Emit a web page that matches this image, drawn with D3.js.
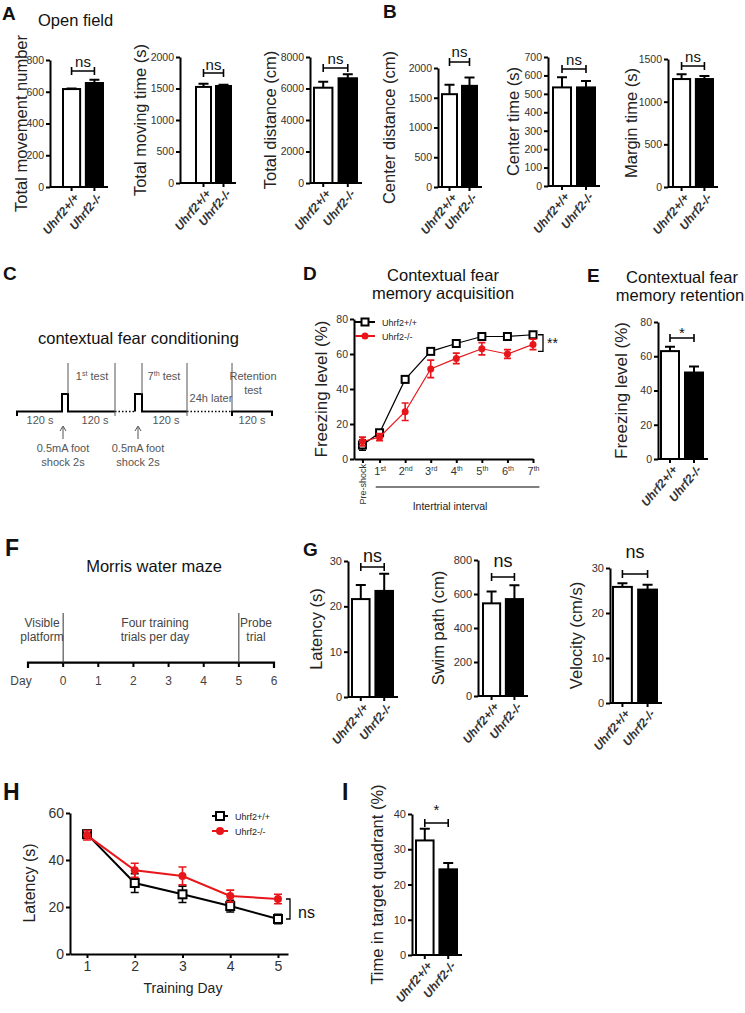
<!DOCTYPE html>
<html>
<head>
<meta charset="utf-8">
<script src="https://cdn.jsdelivr.net/npm/d3@7"></script>
<style>
  body { margin: 0; background: #fff; }
  svg { font-family: "Liberation Sans", Arial, sans-serif; }
  .axis .domain, .axis line { stroke: #000; stroke-width: 2; }
  .axis text { fill: #333; }
</style>
</head>
<body>
<div class="chart"></div>
<script>
// === Data ===
const genotypes = ["Uhrf2+/+", "Uhrf2-/-"];

// A - open field
const movementNumber = [617, 655], movementNumberErr = [4, 20];
const movingTime = [1525, 1540], movingTimeErr = [50, 20];
const totalDistance = [6050, 6650], totalDistanceErr = [380, 250];

// B
const centerDistance = [1560, 1700], centerDistanceErr = [160, 140];
const centerTime = [535, 535], centerTimeErr = [55, 35];
const marginTime = [1265, 1265], marginTimeErr = [55, 35];

// D - acquisition
const trialPos = [0.33, 1, 2, 3, 4, 5, 6, 7];
const trialLabels = ["Pre-shock", "1", "2", "3", "4", "5", "6", "7"];
const trialSup = ["", "st", "nd", "rd", "th", "th", "th", "th"];
const freezeWT = [8, 15, 45.5, 61.5, 66, 70, 70, 71];
const freezeWTErr = [3, 1.5, 1.8, 1.2, 1.5, 1, 1, 1];
const freezeKO = [10, 12.5, 27, 51.5, 57.5, 63, 60, 65.5];
const freezeKOErr = [2.5, 2, 5, 5, 3, 3.5, 2.5, 3];

// E - retention
const retention = [63, 50.5], retentionErr = [2.5, 3.5];

// G - probe / visible platform
const probeLatency = [21.6, 23.4], probeLatencyErr = [3.1, 3.8];
const swimPath = [545, 570], swimPathErr = [70, 82];
const velocity = [25.8, 25.2], velocityErr = [0.8, 1.1];

// H - training latency
const trainingDays = [1, 2, 3, 4, 5];
const latencyWT = [51, 30.2, 25.4, 20.4, 14.9];
const latencyWTErr = [1.5, 4, 3.5, 2.5, 2];
const latencyKO = [50.5, 35.6, 33.2, 24.7, 23.4];
const latencyKOErr = [2, 3, 3.8, 2.5, 2];

// I - target quadrant
const targetTime = [32.5, 24.3], targetTimeErr = [3.3, 1.8];

// F - timeline
const mazeDays = [0, 1, 2, 3, 4, 5, 6];

// === SVG ===
const svg = d3.select(".chart").append("svg")
    .attr("width", 745)
    .attr("height", 1013);

function label(x, y, str, size, opts = {}) {
  return svg.append("text")
    .attr("x", x).attr("y", y)
    .attr("font-size", size)
    .attr("font-weight", opts.bold ? "bold" : null)
    .attr("text-anchor", opts.anchor || "start")
    .attr("fill", opts.fill || "#111")
    .text(str);
}

function yLabel(x, y, str, size) {
  svg.append("text")
    .attr("transform", `translate(${x},${y}) rotate(-90)`)
    .attr("text-anchor", "middle")
    .attr("font-size", size)
    .attr("fill", "#222")
    .text(str);
}

// === Bar chart ===
function barChart(o) {
  const y = d3.scaleLinear().domain([0, o.max]).range([o.y0, o.yTop]);
  const x = d3.scaleBand().domain(genotypes).range([o.x1, o.x2]).paddingInner(0.25).paddingOuter(0);
  const cx = k => x(k) + x.bandwidth() / 2;
  const rows = genotypes.map((k, i) => ({k, v: o.values[i], e: o.errors[i], i}));
  const cap = o.cap || 5;
  const g = svg.append("g");

  g.selectAll(".bar").data(rows).join("rect")
    .attr("class", "bar")
    .attr("x", d => x(d.k))
    .attr("y", d => y(d.v))
    .attr("width", x.bandwidth())
    .attr("height", d => o.y0 - y(d.v))
    .attr("fill", d => d.i ? "#000" : "#fff")
    .attr("stroke", "#000")
    .attr("stroke-width", 2);

  g.selectAll(".err").data(rows).join("path")
    .attr("class", "err")
    .attr("d", d => `M${cx(d.k)},${y(d.v)}V${y(d.v + d.e)}M${cx(d.k) - cap},${y(d.v + d.e)}H${cx(d.k) + cap}`)
    .attr("stroke", "#000")
    .attr("stroke-width", 2)
    .attr("fill", "none");

  // y axis
  g.append("g")
    .attr("class", "axis")
    .attr("transform", `translate(${o.axisX},0)`)
    .call(d3.axisLeft(y).tickValues(d3.range(0, o.max + 1e-9, o.step)).tickFormat(d3.format("d"))
      .tickSize(4).tickSizeOuter(0).tickPadding(2))
    .call(a => a.selectAll("text").attr("font-size", o.tickSize || 10.5));

  // x axis
  const xa = g.append("g")
    .attr("class", "axis")
    .attr("transform", `translate(0,${o.y0})`)
    .call(d3.axisBottom(x).tickSize(4).tickSizeOuter(0));
  xa.select(".domain").attr("d", `M${o.axisX},0H${o.x2 + 5}`);
  xa.selectAll("text")
    .attr("text-anchor", "end")
    .attr("font-size", 12)
    .attr("font-weight", "bold")
    .attr("font-style", "italic")
    .attr("fill", "#111")
    .attr("y", 0).attr("dy", 0)
    .attr("transform", "translate(8,11) rotate(-50)");

  yLabel(o.labelX, (o.y0 + o.yTop) / 2, o.label, o.labelSize || 16.5);

  // significance bracket
  const bx0 = cx(genotypes[0]), bx1 = cx(genotypes[1]);
  g.append("path")
    .attr("d", `M${bx0},${o.sigY - 4}V${o.sigY + 4}M${bx0},${o.sigY}H${bx1}M${bx1},${o.sigY - 4}V${o.sigY + 4}`)
    .attr("stroke", "#000").attr("stroke-width", 1.6).attr("fill", "none");
  g.append("text")
    .attr("x", (bx0 + bx1) / 2).attr("y", o.sigTextY)
    .attr("text-anchor", "middle")
    .attr("font-size", o.sigSize || 15)
    .attr("fill", "#111")
    .text(o.sig);
}

// === Line chart ===
function lineChart(o) {
  const x = d3.scaleLinear().domain(o.xDomain).range([o.axisX, o.xEnd]);
  const y = d3.scaleLinear().domain([0, o.max]).range([o.y0, o.yTop]);
  const g = svg.append("g");

  g.append("g")
    .attr("class", "axis")
    .attr("transform", `translate(${o.axisX},0)`)
    .call(d3.axisLeft(y).tickValues(d3.range(0, o.max + 1e-9, o.step)).tickSize(4).tickSizeOuter(0).tickPadding(2))
    .call(a => a.selectAll("text").attr("font-size", o.tickSize));

  const xa = g.append("g")
    .attr("class", "axis")
    .attr("transform", `translate(0,${o.y0})`)
    .call(d3.axisBottom(x).tickValues(o.xs).tickSize(4).tickSizeOuter(0).tickFormat(o.fmt || d3.format("d")))
    .call(a => a.selectAll("text").attr("font-size", o.tickSize));

  o.series.forEach(s => {
    const pts = o.xs.map((xv, i) => ({x: xv, v: s.values[i], e: s.errs[i]}));
    g.append("path").datum(pts)
      .attr("d", d3.line().x(d => x(d.x)).y(d => y(d.v)))
      .attr("fill", "none").attr("stroke", s.color).attr("stroke-width", o.lw);
    g.selectAll(null).data(pts).join("path")
      .attr("d", d => {
        const px = x(d.x), t = y(d.v + d.e), b = y(d.v - d.e);
        return `M${px},${t}V${b}M${px - o.cap},${t}H${px + o.cap}M${px - o.cap},${b}H${px + o.cap}`;
      })
      .attr("stroke", s.color).attr("stroke-width", 1.6).attr("fill", "none");
    if (s.marker === "square") {
      g.selectAll(null).data(pts).join("rect")
        .attr("x", d => x(d.x) - o.ms / 2).attr("y", d => y(d.v) - o.ms / 2)
        .attr("width", o.ms).attr("height", o.ms)
        .attr("fill", "#fff").attr("stroke", s.color).attr("stroke-width", 2);
    } else {
      g.selectAll(null).data(pts).join("circle")
        .attr("cx", d => x(d.x)).attr("cy", d => y(d.v)).attr("r", o.ms / 2)
        .attr("fill", s.color);
    }
  });

  // legend
  o.series.forEach((s, i) => {
    const ly = o.legY + i * o.legGap;
    g.append("line").attr("x1", o.legX).attr("x2", o.legX + o.legW).attr("y1", ly).attr("y2", ly)
      .attr("stroke", s.color).attr("stroke-width", 2);
    const mx = o.legX + o.legW / 2;
    if (s.marker === "square") {
      g.append("rect").attr("x", mx - o.ms / 2).attr("y", ly - o.ms / 2).attr("width", o.ms).attr("height", o.ms)
        .attr("fill", "#fff").attr("stroke", s.color).attr("stroke-width", 2);
    } else {
      g.append("circle").attr("cx", mx).attr("cy", ly).attr("r", o.ms / 2).attr("fill", s.color);
    }
    g.append("text").attr("x", o.legX + o.legW + 7).attr("y", ly + 3.5)
      .attr("font-size", 9).attr("fill", "#222").text(s.name);
  });
  return {x, y, xa};
}

// === Panel A ===
label(2, 20, "A", 19, {bold: true});
label(38, 26, "Open field", 16.5);
barChart({axisX: 50, y0: 187, yTop: 60, max: 800, step: 200, x1: 63, x2: 103,
  values: movementNumber, errors: movementNumberErr, label: "Total movement number", labelX: 27,
  sigY: 71, sigTextY: 67, sig: "ns"});
barChart({axisX: 180, y0: 183, yTop: 57, max: 2000, step: 500, x1: 196, x2: 231,
  values: movingTime, errors: movingTimeErr, label: "Total moving time (s)", labelX: 146,
  sigY: 73, sigTextY: 70, sig: "ns"});
barChart({axisX: 310, y0: 183, yTop: 57, max: 8000, step: 2000, x1: 314, x2: 357,
  values: totalDistance, errors: totalDistanceErr, label: "Total distance (cm)", labelX: 276,
  sigY: 68, sigTextY: 64, sig: "ns"});

// === Panel B ===
label(383, 18, "B", 19, {bold: true});
barChart({axisX: 438, y0: 187, yTop: 68, max: 2000, step: 500, x1: 442, x2: 477,
  values: centerDistance, errors: centerDistanceErr, label: "Center distance (cm)", labelX: 395,
  sigY: 62, sigTextY: 57, sig: "ns"});
barChart({axisX: 548, y0: 186, yTop: 57, max: 700, step: 100, x1: 553, x2: 595,
  values: centerTime, errors: centerTimeErr, label: "Center time (s)", labelX: 519,
  sigY: 69, sigTextY: 65, sig: "ns"});
barChart({axisX: 668, y0: 187, yTop: 59, max: 1500, step: 500, x1: 673, x2: 713,
  values: marginTime, errors: marginTimeErr, label: "Margin time (s)", labelX: 637,
  sigY: 66, sigTextY: 62, sig: "ns"});

// === Panel C: contextual fear conditioning protocol ===
label(3, 280, "C", 19, {bold: true});
label(38, 344, "contextual fear conditioning", 16.5);
const cg = svg.append("g").attr("fill", "none").attr("stroke", "#000");
cg.append("path").attr("stroke-width", 2).attr("d", "M17,416V411.5H62V394H68V411.5H115");
cg.append("path").attr("stroke-width", 2).attr("d", "M135,411.5V394H142V411.5H187");
cg.append("path").attr("stroke-width", 2).attr("d", "M232,416V411.5H272V416");
cg.append("path").attr("stroke-width", 1.5).attr("stroke-dasharray", "1.5,2").attr("d", "M115,411.5H135M187,411.5H232");
cg.append("path").attr("stroke-width", 1).attr("stroke", "#555")
  .attr("d", "M68,363V394M115,363V416M142,363V394M187,363V416M232,363V411");
cg.append("path").attr("stroke-width", 1).attr("stroke", "#555")
  .attr("d", "M63,439V427M60,431L63,426L66,431M138,439V427M135,431L138,426L141,431");
const cText = (x, y, s) => label(x, y, s, 11, {anchor: "middle", fill: "#555"});
const supText = (x, y, base, sup, rest, size) => {
  const t = svg.append("text").attr("x", x).attr("y", y).attr("text-anchor", "middle")
    .attr("font-size", size).attr("fill", "#555");
  t.append("tspan").text(base);
  t.append("tspan").attr("font-size", size * 0.65).attr("dy", -size * 0.35).text(sup);
  t.append("tspan").attr("dy", size * 0.35).text(rest);
};
supText(92, 380, "1", "st", " test", 11);
supText(164, 380, "7", "th", " test", 11);
cText(211, 402, "24h later");
cText(253, 380, "Retention");
cText(253, 394, "test");
cText(40, 424, "120 s");
cText(95, 424, "120 s");
cText(166, 424, "120 s");
cText(252, 424, "120 s");
cText(63, 452, "0.5mA foot");
cText(63, 466, "shock 2s");
cText(138, 452, "0.5mA foot");
cText(138, 466, "shock 2s");

// === Panel D ===
label(303, 280, "D", 19, {bold: true});
label(443, 281, "Contextual fear", 16.5, {anchor: "middle"});
label(443, 299, "memory acquisition", 16.5, {anchor: "middle"});
const dChart = lineChart({axisX: 354, xEnd: 533, xDomain: [0, 7], y0: 459, yTop: 319, max: 80, step: 20,
  xs: trialPos, tickSize: 10.5, lw: 1.2, cap: 3.5, ms: 7,
  series: [
    {name: "Uhrf2+/+", values: freezeWT, errs: freezeWTErr, color: "#000", marker: "square"},
    {name: "Uhrf2-/-", values: freezeKO, errs: freezeKOErr, color: "#e8161b", marker: "circle"}
  ],
  legX: 355, legY: 322, legW: 20, legGap: 14});
dChart.xa.selectAll("text").remove();
dChart.xa.selectAll(".tick").each(function(d, i) {
  const t = d3.select(this).append("text").attr("fill", "#222");
  if (i === 0) {
    t.attr("transform", "translate(3,5) rotate(-90)").attr("text-anchor", "end")
      .attr("font-size", 9).text(trialLabels[i]);
  } else {
    t.attr("y", 16).attr("text-anchor", "middle").attr("font-size", 11);
    t.append("tspan").text(trialLabels[i]);
    t.append("tspan").attr("font-size", 7).attr("dy", -4).text(trialSup[i]);
  }
});
svg.append("line").attr("x1", dChart.x(0.85)).attr("x2", dChart.x(7.25))
  .attr("y1", 487).attr("y2", 487).attr("stroke", "#000").attr("stroke-width", 1.2);
label(450, 510, "Intertrial interval", 10.5, {anchor: "middle", fill: "#222"});
yLabel(327, 389, "Freezing level (%)", 17);
svg.append("path")
  .attr("d", `M538,${dChart.y(71)}H543V${dChart.y(61.5)}H538`)
  .attr("stroke", "#000").attr("stroke-width", 1.3).attr("fill", "none");
label(547, 348, "**", 14);

// === Panel E ===
label(587, 282, "E", 19, {bold: true});
label(682, 283, "Contextual fear", 16.5, {anchor: "middle"});
label(680, 301, "memory retention", 16.5, {anchor: "middle"});
barChart({axisX: 658, y0: 459, yTop: 322, max: 80, step: 20, x1: 661, x2: 703,
  values: retention, errors: retentionErr, label: "Freezing level (%)", labelX: 627, labelSize: 17,
  sigY: 338, sigTextY: 338, sig: "*", sigSize: 15});

// === Panel F: Morris water maze timeline ===
label(5, 556, "F", 23, {bold: true});
label(154, 572, "Morris water maze", 16.5, {anchor: "middle"});
const dayX = d3.scaleLinear().domain([-1, 6]).range([28, 274]);
const fg = svg.append("g").attr("fill", "none").attr("stroke", "#000");
fg.append("path").attr("stroke-width", 2.2)
  .attr("d", `M${dayX(-1)},668V662.7H${dayX(6)}V668`);
fg.selectAll(null).data(mazeDays.slice(0, -1)).join("path").attr("stroke-width", 2)
  .attr("d", d => `M${dayX(d)},662.7V667`);
fg.selectAll(null).data([0, 5]).join("path").attr("stroke-width", 1).attr("stroke", "#333")
  .attr("d", d => `M${dayX(d)},613V663`);
svg.selectAll(null).data(mazeDays).join("text")
  .attr("x", d => dayX(d)).attr("y", 685).attr("text-anchor", "middle")
  .attr("font-size", 12).attr("fill", "#444").text(d => d);
label(dayX(-1) - 7, 685, "Day", 12, {anchor: "middle", fill: "#444"});
const fText = (x, y, s) => label(x, y, s, 12, {anchor: "middle", fill: "#444"});
fText(42, 627, "Visible");
fText(42, 641, "platform");
fText(155, 627, "Four training");
fText(155, 641, "trials per day");
fText(256, 627, "Probe");
fText(256, 641, "trial");

// === Panel G ===
label(303, 556, "G", 19, {bold: true});
barChart({axisX: 348, y0: 697, yTop: 561, max: 30, step: 10, x1: 352, x2: 393, tickSize: 11,
  values: probeLatency, errors: probeLatencyErr, label: "Latency (s)", labelX: 322,
  sigY: 567, sigTextY: 562, sig: "ns", sigSize: 18});
barChart({axisX: 478, y0: 696, yTop: 560, max: 800, step: 200, x1: 483, x2: 523, tickSize: 11,
  values: swimPath, errors: swimPathErr, label: "Swim path (cm)", labelX: 444,
  sigY: 577, sigTextY: 567, sig: "ns", sigSize: 18});
barChart({axisX: 610, y0: 703, yTop: 568, max: 30, step: 10, x1: 613, x2: 657, tickSize: 11,
  values: velocity, errors: velocityErr, label: "Velocity (cm/s)", labelX: 582,
  sigY: 574, sigTextY: 558, sig: "ns", sigSize: 18});

// === Panel H ===
label(3, 800, "H", 23, {bold: true});
const hChart = lineChart({axisX: 70, xEnd: 288, xDomain: [0.644, 5.21], y0: 954, yTop: 813, max: 60, step: 20,
  xs: trainingDays, tickSize: 14, lw: 2, cap: 4, ms: 8,
  series: [
    {name: "Uhrf2+/+", values: latencyWT, errs: latencyWTErr, color: "#000", marker: "square"},
    {name: "Uhrf2-/-", values: latencyKO, errs: latencyKOErr, color: "#e8161b", marker: "circle"}
  ],
  legX: 212, legY: 816, legW: 16, legGap: 15});
label(183, 993, "Training Day", 14, {anchor: "middle", fill: "#222"});
yLabel(35, 883, "Latency (s)", 16);
svg.append("path")
  .attr("d", `M286,${hChart.y(23.4)}H290V${hChart.y(14.9)}H286`)
  .attr("stroke", "#000").attr("stroke-width", 1.3).attr("fill", "none");
label(298, 918, "ns", 16);

// === Panel I ===
label(342, 800, "I", 23, {bold: true});
barChart({axisX: 412, y0: 955, yTop: 814, max: 40, step: 10, x1: 416, x2: 457, tickSize: 11,
  values: targetTime, errors: targetTimeErr, label: "Time in target quadrant (%)", labelX: 383,
  sigY: 823, sigTextY: 815, sig: "*", sigSize: 15});
</script>
</body>
</html>
